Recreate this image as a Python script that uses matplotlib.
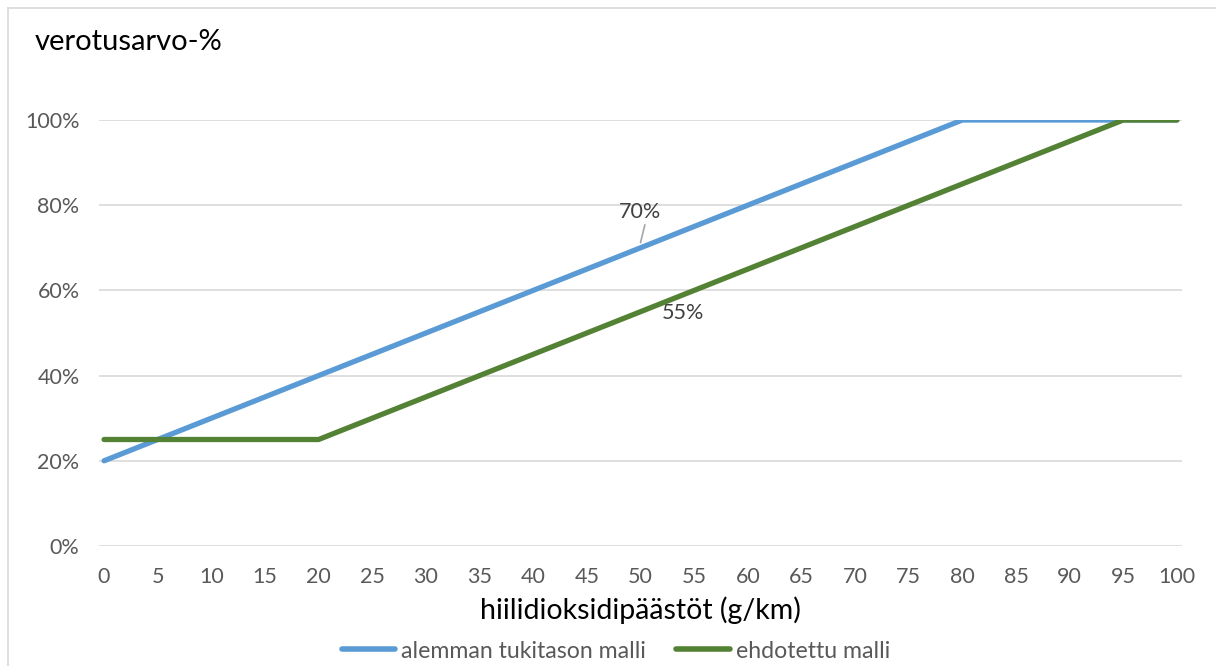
import matplotlib.pyplot as plt
from matplotlib.lines import Line2D
from matplotlib.ticker import PercentFormatter

plt.rcParams['font.family'] = ['Lato', 'DejaVu Sans']

# päästöt g/km ja verotusarvo-% kahdelle mallille
paastot = [0, 5, 10, 15, 20, 25, 30, 35, 40, 45, 50, 55, 60, 65, 70, 75, 80, 85, 90, 95, 100]
alempi = [20, 25, 30, 35, 40, 45, 50, 55, 60, 65, 70, 75, 80, 85, 90, 95, 100, 100, 100, 100, 100]
ehdotettu = [25, 25, 25, 25, 25, 30, 35, 40, 45, 50, 55, 60, 65, 70, 75, 80, 85, 90, 95, 100, 100]
sarjat = ['alemman tukitason malli', 'ehdotettu malli']
y_ticks = [0, 20, 40, 60, 80, 100]

sininen = '#5B9BD5'
vihrea = '#548235'
harmaa = '#595959'

fig = plt.figure(figsize=(12.16, 6.66), dpi=100)
ax = fig.add_axes([99 / 1216, 120 / 666, (1182 - 99) / 1216, (546 - 120) / 666])

ax.plot(paastot, alempi, color=sininen, lw=3.8, solid_capstyle='round', zorder=3)
ax.plot(paastot, ehdotettu, color=vihrea, lw=3.8, solid_capstyle='round', zorder=4)

ax.set_xlim(-0.47, 100.47)
ax.set_ylim(0, 100)
ax.set_xticks(paastot)
ax.set_yticks(y_ticks)
ax.yaxis.set_major_formatter(PercentFormatter(decimals=0))
ax.tick_params(length=0, labelsize=15.5, colors=harmaa)
ax.tick_params(axis='x', pad=15)
ax.tick_params(axis='y', pad=14)
ax.grid(axis='y', color='#D9D9D9', lw=1.2, zorder=0)
ax.set_axisbelow(True)
for s in ax.spines.values():
    s.set_visible(False)

ax.set_xlabel('hiilidioksidipäästöt (g/km)', fontsize=20.5, color='black', labelpad=7)

# arvot kohdassa 50 g/km
i = paastot.index(50)
ax.annotate(f'{alempi[i]}%', xy=(paastot[i], alempi[i] + 1.2), xytext=(paastot[i], alempi[i] + 8.4),
            fontsize=15.5, color='#404040', ha='center', va='center',
            arrowprops=dict(arrowstyle='-', color='#A6A6A6', lw=1.2, shrinkA=0, shrinkB=0,
                            relpos=(0.62, 0.0)))
ax.text(paastot[i] + 4.0, ehdotettu[i] - 0.3, f'{ehdotettu[i]}%', fontsize=15.5, color='#404040',
        ha='center', va='center')

fig.text(35 / 1216, 1 - 42 / 666, 'verotusarvo-%', fontsize=21, color='black', va='center')

handles = [Line2D([], [], color=sininen, lw=4, solid_capstyle='round'),
           Line2D([], [], color=vihrea, lw=4, solid_capstyle='round')]
fig.legend(handles, sarjat, loc='center', bbox_to_anchor=(616 / 1216, 1 - 651 / 666), ncol=2,
           frameon=False, fontsize=16.7, labelcolor=harmaa, handlelength=2.3, handletextpad=0.28,
           columnspacing=1.3)

# kehys vasemmalla ja ylhäällä
fig.add_artist(Line2D([8 / 1216, 8 / 1216], [0, 1 - 8 / 666], color='#D9D9D9', lw=1.2))
fig.add_artist(Line2D([8 / 1216, 1], [1 - 8 / 666, 1 - 8 / 666], color='#D9D9D9', lw=1.2))

fig.savefig('out.png', dpi=100)
